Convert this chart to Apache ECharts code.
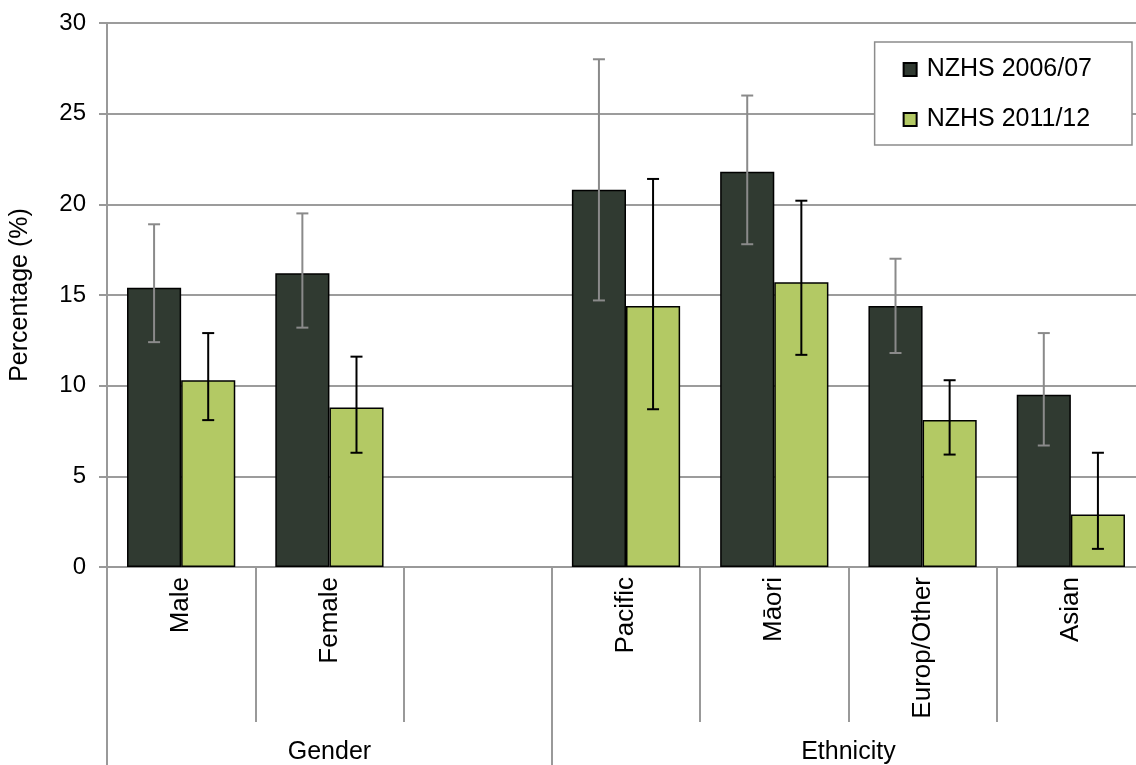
<!DOCTYPE html>
<html>
<head>
<meta charset="utf-8">
<script src="https://cdn.jsdelivr.net/npm/echarts@6/dist/echarts.min.js"></script>
<style>
html,body{margin:0;padding:0;background:#fff;}
#chart{width:1136px;height:765px;}
</style>
</head>
<body>
<div id="chart"></div>
<script>
// ---- data ----
const categories = ['Male', 'Female', '', 'Pacific', 'Māori', 'Europ/Other', 'Asian'];
const seriesNames = ['NZHS 2006/07', 'NZHS 2011/12'];
const s2006 = [15.4, 16.2, null, 20.8, 21.8, 14.4, 9.5];
const s2006Low = [12.4, 13.2, null, 14.7, 17.8, 11.8, 6.7];
const s2006High = [18.9, 19.5, null, 28.0, 26.0, 17.0, 12.9];
const s2011 = [10.3, 8.8, null, 14.4, 15.7, 8.1, 2.9];
const s2011Low = [8.1, 6.3, null, 8.7, 11.7, 6.2, 1.0];
const s2011High = [12.9, 11.6, null, 21.4, 20.2, 10.3, 6.3];
const yTicks = [0, 5, 10, 15, 20, 25, 30];
const groupNames = ['Gender', 'Ethnicity'];
const groupBounds = [0, 3, 7];       // category-slot boundaries of the groups
const groupCenters = [1.5, 5];       // label positions (in slot units)

const CAT_GAP = 0.27;
const FONT = "'Liberation Sans', Arial, sans-serif";
const colors = ['#303a31', '#b3c964'];
const errColors = ['#8a8a8a', '#000000'];

function errData(lo, hi) {
  return categories.map((c, i) => [i, lo[i], hi[i]]);
}

function makeErr(idx) {
  return function (params, api) {
    const x = api.value(0), lo = api.value(1), hi = api.value(2);
    if (lo == null || isNaN(lo) || hi == null || isNaN(hi)) return null;
    const band = api.size([1, 0])[0];
    const bw = band * (1 - CAT_GAP) / 2;
    const off = idx === 0 ? -bw / 2 : bw / 2;
    const pLo = api.coord([x, lo]);
    const pHi = api.coord([x, hi]);
    const cx = pLo[0] + off;
    const cap = 6;
    const style = { stroke: errColors[idx], lineWidth: 2 };
    return {
      type: 'group',
      children: [
        { type: 'line', shape: { x1: cx, y1: pLo[1], x2: cx, y2: pHi[1] }, style },
        { type: 'line', shape: { x1: cx - cap, y1: pLo[1], x2: cx + cap, y2: pLo[1] }, style },
        { type: 'line', shape: { x1: cx - cap, y1: pHi[1], x2: cx + cap, y2: pHi[1] }, style }
      ]
    };
  };
}

const chart = echarts.init(document.getElementById('chart'));
chart.setOption({
  animation: false,
  backgroundColor: '#fff',
  textStyle: { fontFamily: FONT, color: '#000' },
  grid: { left: 107, top: 23, bottom: 198, right: -9, containLabel: false, outerBoundsMode: 'none' },
  legend: {
    data: seriesNames,
    orient: 'vertical',
    right: 4,
    top: 42,
    icon: 'rect',
    itemWidth: 13,
    itemHeight: 13,
    itemGap: 25,
    padding: [15, 40, 13, 28],
    backgroundColor: '#fff',
    borderColor: '#8c8c8c',
    borderWidth: 1.5,
    textStyle: { fontFamily: FONT, fontSize: 25, color: '#000', lineHeight: 25, padding: [0, 0, 0, 5] }
  },
  xAxis: [
    {
      type: 'category',
      data: categories,
      position: 'bottom',
      axisLine: { show: true, lineStyle: { color: '#999', width: 2 } },
      axisTick: { show: true, interval: 0, length: 155, lineStyle: { color: '#999', width: 2 } },
      axisLabel: { interval: 0, rotate: 90, margin: 10, fontSize: 26, color: '#000', fontFamily: FONT },
      splitLine: { show: false }
    },
    {
      type: 'value',
      min: groupBounds[0],
      max: groupBounds[groupBounds.length - 1],
      position: 'bottom',
      axisLine: { show: false },
      splitLine: { show: false },
      axisTick: { show: true, customValues: groupBounds, length: 200, lineStyle: { color: '#999', width: 2 } },
      axisLabel: {
        show: true,
        customValues: groupCenters,
        margin: 173,
        fontSize: 25,
        color: '#000',
        fontFamily: FONT,
        formatter: function (v) {
          const i = groupCenters.indexOf(v);
          return i >= 0 ? groupNames[i] : '';
        }
      }
    }
  ],
  yAxis: {
    type: 'value',
    min: yTicks[0],
    max: yTicks[yTicks.length - 1],
    interval: yTicks[1] - yTicks[0],
    name: 'Percentage (%)',
    nameLocation: 'middle',
    nameRotate: 90,
    nameGap: 74,
    nameMoveOverlap: false,
    nameTextStyle: { fontSize: 25, color: '#000', fontFamily: FONT },
    axisLine: { show: true, lineStyle: { color: '#999', width: 2 } },
    axisTick: { show: true, length: 8, lineStyle: { color: '#999', width: 2 } },
    axisLabel: { fontSize: 24, color: '#000', margin: 21, fontFamily: FONT },
    splitLine: { show: true, lineStyle: { color: '#9c9c9c', width: 2 } }
  },
  series: [
    {
      name: seriesNames[0],
      type: 'bar',
      data: s2006,
      barGap: '0%',
      barCategoryGap: (CAT_GAP * 100) + '%',
      itemStyle: { color: colors[0], borderColor: '#000', borderWidth: 1.5 },
      z: 2
    },
    {
      name: seriesNames[1],
      type: 'bar',
      data: s2011,
      barGap: '0%',
      barCategoryGap: (CAT_GAP * 100) + '%',
      itemStyle: { color: colors[1], borderColor: '#000', borderWidth: 1.5 },
      z: 2
    },
    {
      type: 'custom',
      renderItem: makeErr(0),
      data: errData(s2006Low, s2006High),
      encode: { x: 0, y: [1, 2] },
      z: 5,
      silent: true
    },
    {
      type: 'custom',
      renderItem: makeErr(1),
      data: errData(s2011Low, s2011High),
      encode: { x: 0, y: [1, 2] },
      z: 5,
      silent: true
    }
  ]
});
</script>
</body>
</html>
